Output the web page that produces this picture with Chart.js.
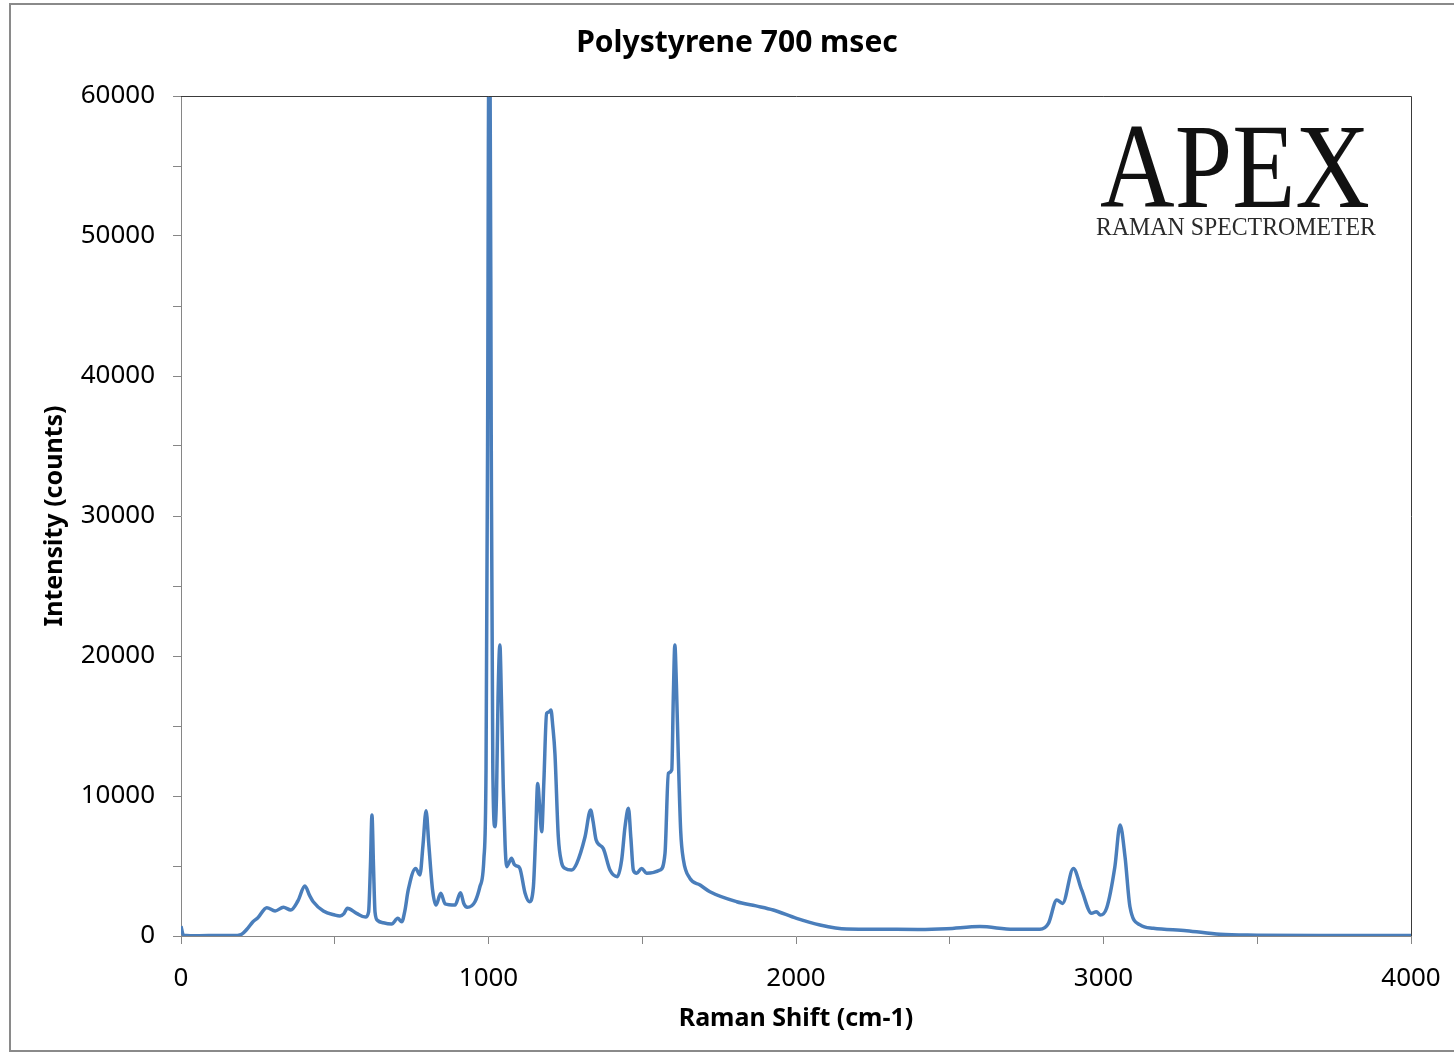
<!DOCTYPE html>
<html>
<head>
<meta charset="utf-8">
<script src="https://cdn.jsdelivr.net/npm/chart.js@4/dist/chart.umd.min.js"></script>
<style>
  html, body { margin: 0; padding: 0; background: #fff; }
  #wrap { position: relative; width: 1454px; height: 1054px; }
</style>
</head>
<body>
<div id="wrap"><canvas id="spectrum" width="1454" height="1054"></canvas></div>
<script>
const ramanShift = [
  0, 8, 60, 120, 170, 195, 215, 234, 250, 279, 306, 333, 357, 380, 403, 418, 430, 463, 500, 517,
  530, 541, 571, 600, 610, 616, 621, 626, 631, 640, 658, 685, 705, 718, 728, 739, 763, 777, 787, 797,
  806, 818, 829, 845, 859, 891, 909, 920, 931, 956, 972, 985, 992, 997, 1001, 1005, 1009, 1014, 1021, 1026,
  1031, 1037, 1042, 1048, 1054, 1059, 1066, 1075, 1084, 1092, 1102, 1119, 1133, 1146, 1153, 1160, 1167, 1173, 1180, 1189,
  1197, 1203, 1209, 1216, 1227, 1237, 1249, 1270, 1287, 1314, 1332, 1340, 1350, 1373, 1395, 1419, 1433, 1444, 1455, 1463,
  1471, 1482, 1498, 1514, 1558, 1574, 1585, 1596, 1601, 1606, 1611, 1617, 1625, 1634, 1655, 1688, 1720, 1807, 1870, 1926,
  2002, 2078, 2165, 2273, 2400, 2490, 2598, 2707, 2793, 2821, 2848, 2867, 2902, 2929, 2961, 2977, 2989, 3010, 3037, 3054,
  3070, 3086, 3119, 3162, 3270, 3379, 3500, 3700, 4000
];
const intensity = [
  700, 60, 20, 40, 30, 100, 500, 1020, 1300, 2020, 1790, 2050, 1860, 2500, 3570, 2900, 2450, 1790, 1500, 1430,
  1600, 1980, 1620, 1350, 1700, 5000, 8640, 5000, 1700, 1100, 950, 860, 1260, 1020, 1800, 3290, 4830, 4360, 6500, 8950,
  6500, 3300, 2210, 3050, 2290, 2210, 3090, 2300, 2050, 2450, 3520, 5500, 12000, 35000, 62000, 62000, 35000, 12000, 7810, 10000,
  17000, 20790, 17000, 10660, 6500, 4950, 5200, 5550, 5100, 5000, 4830, 3050, 2450, 3520, 7000, 10900, 9000, 7450, 11000, 15900,
  16000, 16140, 15000, 13050, 7090, 5300, 4830, 4710, 5190, 7090, 9000, 8200, 6860, 6260, 4710, 4240, 5430, 7800, 9120, 7000,
  4710, 4480, 4830, 4480, 4710, 5900, 11620, 11860, 17000, 20790, 18000, 13050, 7500, 5430, 4120, 3640, 3160, 2450, 2150, 1860,
  1260, 790, 500, 480, 470, 520, 670, 480, 480, 900, 2570, 2330, 4830, 3290, 1620, 1740, 1500, 1980, 4950, 7930,
  5660, 2090, 790, 550, 380, 120, 60, 30, 30
];

const chartTitle = 'Polystyrene 700 msec';
const xAxisTitle = 'Raman Shift (cm-1)';
const yAxisTitle = 'Intensity (counts)';

const points = ramanShift.map((x, i) => ({ x: x, y: intensity[i] }));

// frame, plot box, title and the APEX mark
const decorations = {
  id: 'decorations',
  afterDraw(chart) {
    const ctx = chart.ctx;
    const a = chart.chartArea;
    ctx.save();

    // outer frame
    ctx.strokeStyle = '#8a8a8a';
    ctx.lineWidth = 2;
    ctx.beginPath();
    ctx.moveTo(1460, 4);
    ctx.lineTo(10, 4);
    ctx.lineTo(10, 1051);
    ctx.lineTo(1460, 1051);
    ctx.stroke();

    // top and right edges of the plot box
    ctx.strokeStyle = '#3a3a3a';
    ctx.lineWidth = 1;
    ctx.beginPath();
    ctx.moveTo(a.left, a.top + 0.5);
    ctx.lineTo(a.right + 0.5, a.top + 0.5);
    ctx.lineTo(a.right + 0.5, a.bottom);
    ctx.stroke();

    // chart title
    ctx.fillStyle = '#000';
    ctx.font = 'bold 30px "Noto Sans"';
    ctx.textAlign = 'center';
    ctx.textBaseline = 'middle';
    ctx.fillText(chartTitle, 737, 43);

    // APEX wordmark
    ctx.textAlign = 'left';
    ctx.textBaseline = 'alphabetic';
    ctx.fillStyle = '#111';
    ctx.font = '120px "Liberation Serif"';
    let w = ctx.measureText('APEX').width;
    ctx.save();
    ctx.translate(1100, 207);
    ctx.scale(270 / w, 1);
    ctx.fillText('APEX', 0, 0);
    ctx.restore();

    ctx.fillStyle = '#2a2a2a';
    ctx.font = '26px "Liberation Serif"';
    w = ctx.measureText('RAMAN SPECTROMETER').width;
    ctx.save();
    ctx.translate(1096, 235);
    ctx.scale(280 / w, 1);
    ctx.fillText('RAMAN SPECTROMETER', 0, 0);
    ctx.restore();

    ctx.restore();
  }
};

new Chart(document.getElementById('spectrum'), {
  type: 'line',
  data: {
    datasets: [{
      label: chartTitle,
      data: points,
      borderColor: '#4a7ebb',
      borderWidth: 3.5,
      pointRadius: 0,
      fill: false,
      cubicInterpolationMode: 'monotone',
      clip: 0
    }]
  },
  options: {
    responsive: false,
    animation: false,
    layout: {
      padding: { left: 36, right: 43, top: 96, bottom: 16 }
    },
    plugins: {
      legend: { display: false },
      tooltip: { enabled: false },
      title: { display: false }
    },
    scales: {
      x: {
        type: 'linear',
        min: 0,
        max: 4000,
        afterFit: (s) => {
          s.height = 102;
          s.paddingLeft = 0;
          s.paddingRight = 0;
        },
        ticks: {
          stepSize: 500,
          autoSkip: false,
          maxRotation: 0,
          padding: 19,
          color: '#000',
          font: { family: 'Noto Sans', size: 26 },
          callback: (v) => (v % 1000 === 0 ? String(v) : '')
        },
        grid: {
          drawOnChartArea: false,
          drawTicks: true,
          tickLength: 8,
          color: '#868686'
        },
        border: { color: '#868686', width: 1 },
        title: {
          display: true,
          text: xAxisTitle,
          color: '#000',
          font: { family: 'Noto Sans', size: 25, weight: 'bold' },
          padding: { top: 4, bottom: 4 }
        }
      },
      y: {
        min: 0,
        max: 60000,
        afterFit: (s) => {
          s.width = 145;
          s.paddingTop = 0;
          s.paddingBottom = 0;
        },
        ticks: {
          stepSize: 5000,
          autoSkip: false,
          padding: 18,
          color: '#000',
          font: { family: 'Noto Sans', size: 26 },
          callback: (v) => (v % 10000 === 0 ? String(v) : '')
        },
        grid: {
          drawOnChartArea: false,
          drawTicks: true,
          tickLength: 8,
          color: '#868686'
        },
        border: { color: '#868686', width: 1 },
        title: {
          display: true,
          text: yAxisTitle,
          color: '#000',
          font: { family: 'Noto Sans', size: 25, weight: 'bold' },
          padding: { top: 4, bottom: 4 }
        }
      }
    }
  },
  plugins: [decorations]
});
</script>
</body>
</html>
